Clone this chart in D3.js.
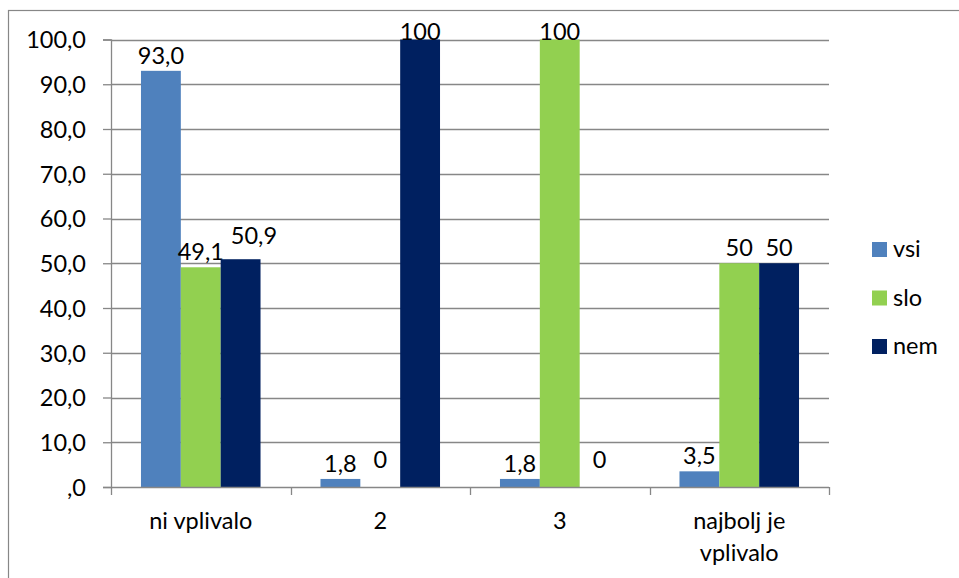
<!DOCTYPE html>
<html>
<head>
<meta charset="utf-8">
<script src="https://cdn.jsdelivr.net/npm/d3@7"></script>
<style>
  html, body { margin: 0; padding: 0; background: #fff; }
  svg { display: block; }
  text { font-family: Lato, "Open Sans", sans-serif; fill: #000; }
</style>
</head>
<body>
<script>
const categories = [["ni vplivalo"], ["2"], ["3"], ["najbolj je", "vplivalo"]];
const seriesNames = ["vsi", "slo", "nem"];
const seriesColors = ["#4F81BD", "#92D050", "#002060"];
const vsiValues = [93.0, 1.8, 1.8, 3.5];
const sloValues = [49.1, 0, 100, 50];
const nemValues = [50.9, 100, 0, 50];
const vsiLabels = ["93,0", "1,8", "1,8", "3,5"];
const sloLabels = ["49,1", "0", "100", "50"];
const nemLabels = ["50,9", "100", "0", "50"];
const yTicks = [0, 10, 20, 30, 40, 50, 60, 70, 80, 90, 100];
const yTickLabels = [",0", "10,0", "20,0", "30,0", "40,0", "50,0", "60,0", "70,0", "80,0", "90,0", "100,0"];

const W = 959, H = 578;
const plot = { left: 111, right: 829, top: 39.5, bottom: 487 };
const fontSize = 23.5;
const gridColor = "#878787";

const svg = d3.select("body").append("svg").attr("width", W).attr("height", H);

// outer chart frame
svg.append("rect").attr("x", 8.5).attr("y", 10.5).attr("width", W + 20).attr("height", H + 20)
  .attr("fill", "none").attr("stroke", gridColor).attr("stroke-width", 1.2);

const catKeys = categories.map(c => c.join(" "));
const x0 = d3.scaleBand().domain(catKeys).range([plot.left, plot.right]).padding(0);
const bw = x0.bandwidth();
const x1 = d3.scaleBand().domain(seriesNames).range([bw * 0.167, bw * 0.833]).padding(0);
const y = d3.scaleLinear().domain([0, 100]).range([plot.bottom, plot.top]);

// gridlines
svg.append("g").selectAll("line").data(yTicks.filter(t => t > 0)).join("line")
  .attr("x1", plot.left).attr("x2", plot.right)
  .attr("y1", d => Math.round(y(d)) + 0.5).attr("y2", d => Math.round(y(d)) + 0.5)
  .attr("stroke", gridColor).attr("stroke-width", 1.3);

// y axis
const yAxis = d3.axisLeft(y).tickValues(yTicks).tickSize(8)
  .tickFormat((d, i) => yTickLabels[i]);
const gy = svg.append("g").attr("transform", `translate(${plot.left},0)`).call(yAxis);
gy.select(".domain").attr("stroke", gridColor).attr("stroke-width", 1.3);
gy.selectAll(".tick line").attr("stroke", gridColor).attr("stroke-width", 1.3);
gy.selectAll(".tick text").attr("x", -25).attr("dy", "0.36em")
  .style("font-size", fontSize + "px").style("font-family", "Lato, sans-serif").attr("fill", "#000");

// bars
const series = [
  { name: "vsi", values: vsiValues, labels: vsiLabels, color: seriesColors[0] },
  { name: "slo", values: sloValues, labels: sloLabels, color: seriesColors[1] },
  { name: "nem", values: nemValues, labels: nemLabels, color: seriesColors[2] }
];

const cats = svg.append("g").selectAll("g").data(catKeys).join("g")
  .attr("transform", d => `translate(${x0(d)},0)`);

cats.each(function(cat, ci) {
  const g = d3.select(this);
  let prevRight = -Infinity, prevBaseline = null;
  series.forEach(s => {
    const v = s.values[ci];
    if (v > 0) {
      g.append("rect")
        .attr("x", x1(s.name)).attr("width", x1.bandwidth())
        .attr("y", y(v)).attr("height", y(0) - y(v))
        .attr("fill", s.color);
    }
    const ly = v === 0 ? y(0) - 19 : Math.max(y(v) - 7, plot.top + 0.5);
    const t = g.append("text")
      .attr("x", x1(s.name) + x1.bandwidth() / 2).attr("y", ly)
      .attr("text-anchor", "middle").style("font-size", fontSize + "px")
      .text(s.labels[ci]);
    // avoid collisions with the previous label (as the original does)
    const bb = t.node().getBBox();
    if (prevBaseline !== null && Math.abs(prevBaseline - ly) < fontSize && bb.x < prevRight + 4) {
      const shift = prevRight + 7 - bb.x;
      t.attr("x", x1(s.name) + x1.bandwidth() / 2 + shift).attr("y", ly - 8);
    }
    const bb2 = t.node().getBBox();
    prevRight = bb2.x + bb2.width;
    prevBaseline = ly;
  });
});

// x axis
const gx = svg.append("g");
gx.append("line").attr("x1", plot.left).attr("x2", plot.right)
  .attr("y1", plot.bottom + 0.5).attr("y2", plot.bottom + 0.5)
  .attr("stroke", gridColor).attr("stroke-width", 1.3);
const boundaries = catKeys.map(k => x0(k)).concat([plot.right]);
gx.selectAll("line.tk").data(boundaries).join("line").attr("class", "tk")
  .attr("x1", d => Math.round(d) + 0.5).attr("x2", d => Math.round(d) + 0.5)
  .attr("y1", plot.bottom).attr("y2", plot.bottom + 8)
  .attr("stroke", gridColor).attr("stroke-width", 1.3);
categories.forEach((lines, i) => {
  const t = gx.append("text").attr("text-anchor", "middle")
    .attr("x", x0(catKeys[i]) + bw / 2).attr("y", 529)
    .style("font-size", fontSize + "px");
  lines.forEach((ln, j) => {
    t.append("tspan").attr("x", x0(catKeys[i]) + bw / 2).attr("dy", j === 0 ? 0 : 32).text(ln);
  });
});

// legend
const legend = svg.append("g").attr("transform", "translate(872,242)");
seriesNames.forEach((n, i) => {
  const lg = legend.append("g").attr("transform", `translate(0,${i * 48.5})`);
  lg.append("rect").attr("width", 15).attr("height", 15).attr("fill", seriesColors[i]);
  lg.append("text").attr("x", 21).attr("y", 15).style("font-size", fontSize + "px").text(n);
});
</script>
</body>
</html>
